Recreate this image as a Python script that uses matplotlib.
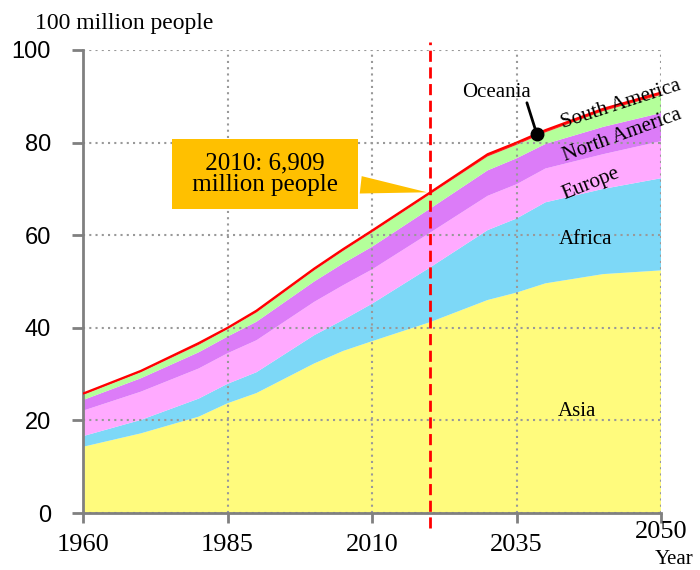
import numpy as np
import matplotlib
matplotlib.use('Agg')
import matplotlib.pyplot as plt
from matplotlib.transforms import ScaledTranslation

# data (100 million people)
years = [1950, 1960, 1970, 1975, 1980, 1990, 1995, 2000, 2010, 2020, 2025, 2030, 2040, 2050]
asia = [14.3, 17.2, 20.8, 23.7, 25.9, 32.3, 35.0, 37.1, 41.2, 46.0, 47.6, 49.6, 51.6, 52.4]
africa = [2.3, 2.9, 3.9, 4.2, 4.5, 6.1, 6.7, 8.1, 11.8, 15.1, 16.0, 17.5, 18.4, 19.9]
europe = [5.5, 6.1, 6.5, 6.6, 6.9, 7.2, 7.5, 7.4, 7.5, 7.4, 7.4, 7.3, 7.5, 8.0]
n_america = [2.3, 2.9, 3.5, 3.6, 4.0, 4.4, 4.7, 4.9, 5.2, 5.5, 5.6, 5.3, 5.9, 6.1]
s_america = [1.1, 1.3, 1.6, 1.6, 2.0, 2.4, 2.7, 3.1, 3.1, 3.0, 2.9, 2.5, 3.4, 3.9]
oceania = [0.3, 0.3, 0.4, 0.3, 0.4, 0.4, 0.4, 0.4, 0.4, 0.5, 0.5, 0.5, 0.5, 0.5]

tick_pos = [1950, 1975, 2000, 2025, 2050]
tick_labels = ['1960', '1985', '2010', '2035', '2050']
y_ticks = [0, 20, 40, 60, 80, 100]
mark_year = 2010

colors = ['#FFFB7D', '#7DD8F7', '#FFAAFF', '#DC7CF8', '#B4FF9A', '#FF2020']
serif = 'Liberation Serif'

plt.close('all')
fig = plt.figure(figsize=(7, 5.7), dpi=100)
ax = fig.add_axes([0.1186, 0.1, 0.8257, 0.8123])

layers = [asia, africa, europe, n_america, s_america, oceania]
ax.stackplot(years, *layers, colors=colors, linewidth=0)
total = np.sum(layers, axis=0)
ax.plot(years, total, color='red', lw=1.5, zorder=3)

ax.set_xlim(1950, 2050)
ax.set_ylim(0, 100)

# ticks and grid
ax.set_xticks(tick_pos)
ax.set_xticklabels(tick_labels, family=serif, fontsize=19)
ax.set_yticks(y_ticks)
ax.set_yticklabels([str(v) for v in y_ticks], family='Liberation Sans', fontsize=17)
ax.tick_params(axis='y', length=8, width=2, color='#808080', pad=15)
ax.tick_params(axis='x', length=7, width=2, color='#808080', pad=8)
xl = ax.get_xticklabels()[-1]
xl.set_transform(xl.get_transform() + ScaledTranslation(0, 0.13, fig.dpi_scale_trans))
ax.grid(True, linestyle=(0, (1, 2)), color='#999999', lw=1.5)
for s in ['top', 'right']:
    ax.spines[s].set_visible(False)
for s in ['left', 'bottom']:
    ax.spines[s].set_color('#808080')
    ax.spines[s].set_linewidth(2)

# dashed 2010 marker line
ax.axvline(mark_year, ymin=-0.033, ymax=1.017, color='red', ls=(0, (4, 2)), lw=2,
           clip_on=False, zorder=4)

# callout
total_mark = np.interp(mark_year, years, total)
ax.annotate(' 2010: 6,909 \n million people ', xy=(mark_year, total_mark), xytext=(1981.5, 73.2),
            ha='center', va='center', fontsize=18, family=serif, linespacing=0.95,
            bbox=dict(boxstyle='square,pad=0.55', fc='#FFC000', ec='none'),
            arrowprops=dict(arrowstyle='wedge,tail_width=0.7,shrink_factor=0.5',
                            fc='#FFC000', ec='none'), zorder=5)

# Oceania pointer
oc_year = 2028.5
oc_y = np.interp(oc_year, years, total)
ax.text(2021.5, 90.8, 'Oceania', ha='center', va='center', fontsize=15, family=serif)
ax.annotate('', xy=(oc_year, oc_y), xytext=(2026.8, 88.6),
            arrowprops=dict(arrowstyle='-', color='black', lw=2, shrinkA=0, shrinkB=0))
ax.plot([oc_year], [oc_y], 'o', color='black', markersize=9, zorder=6)

# region labels
ax.text(2035.5, 22.0, 'Asia', fontsize=15, family=serif, ha='center', va='center')
ax.text(2037.0, 59.0, 'Africa', fontsize=15, family=serif, ha='center', va='center')
ax.text(2037.8, 71.0, 'Europe', fontsize=15, family=serif, ha='center', va='center', rotation=22)
ax.text(2043.3, 81.5, 'North America', fontsize=15, family=serif, ha='center', va='center', rotation=20)
ax.text(2043.0, 88.2, 'South America', fontsize=15, family=serif, ha='center', va='center', rotation=18)

fig.text(35 / 700, 1 - 23 / 570, '100 million people', fontsize=17, family=serif, ha='left', va='center')
fig.text(655 / 700, 1 - 559 / 570, 'Year', fontsize=15, family=serif, ha='left', va='center')

fig.savefig('out.png', dpi=100)
